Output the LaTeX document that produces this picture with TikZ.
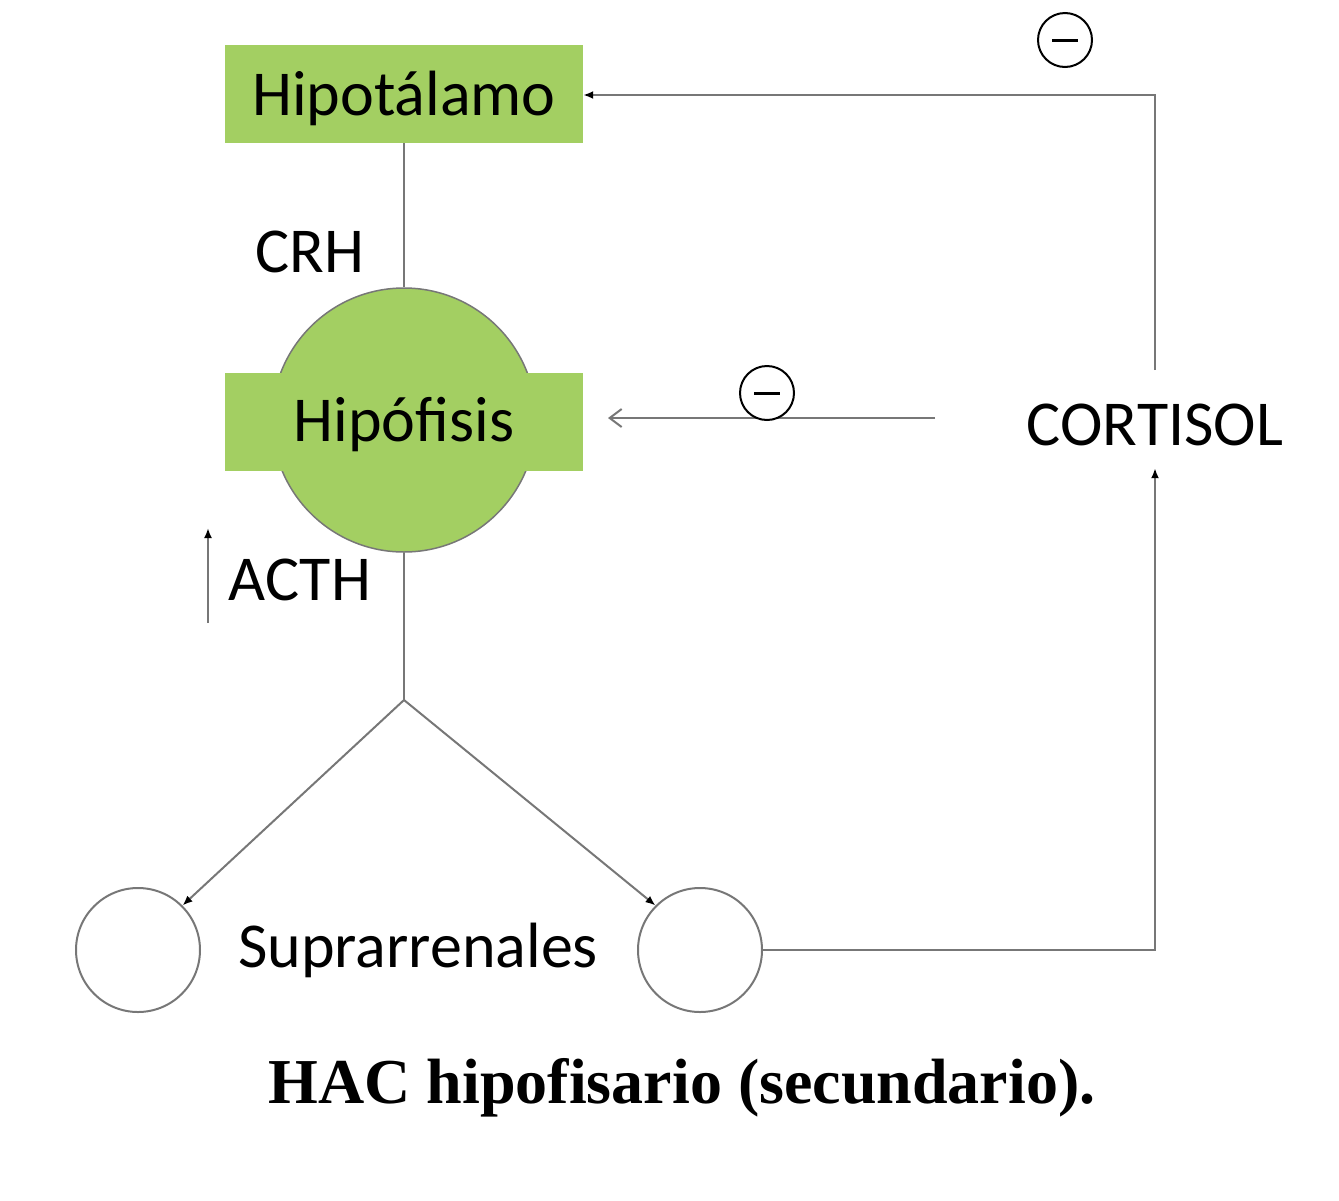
\documentclass[tikz,border=0pt]{standalone}
\usepackage{fontspec}
\setmainfont{Carlito}
\newfontfamily\capfont{Liberation Serif}
\usetikzlibrary{arrows.meta}
\definecolor{gr}{HTML}{A3CF62}
\definecolor{ln}{HTML}{777777}
\tikzset{
  conn/.style={draw=ln,line width=2pt},
  tip/.style={-{Latex[length=10pt,width=8pt,color=black]}},
  lbl/.style={font=\fontsize{64}{74}\selectfont,inner sep=0pt},
  minus/.style={circle,draw=black,line width=2pt,minimum size=54pt,inner sep=0pt,fill=white},
  adr/.style={circle,draw=ln,line width=2pt,minimum size=124pt,inner sep=0pt}
}
\begin{document}
\begin{tikzpicture}[x=1pt,y=-1pt]
\useasboundingbox (0,0) rectangle (1339,1200);
\node[fill=gr,minimum width=358pt,minimum height=98pt,inner sep=0pt] (hip) at (404,94) {};
\node[lbl] (hiptxt) at (404,98) {Hipotálamo};
\node[circle,fill=gr,draw=ln,line width=1.5pt,minimum size=264pt,inner sep=0pt] (pitc) at (404,420) {};
\node[fill=gr,minimum width=358pt,minimum height=98pt,inner sep=0pt] (pitr) at (404,422) {};
\node[lbl] (pittxt) at (404,425) {Hipófisis};
\node[lbl] (crh) at (310,252) {CRH};
\node[lbl] (acth) at (300,580) {ACTH};
\coordinate (a1) at (208,623); \coordinate (a2) at (208,528);
\draw[conn,tip] (a1) -- (a2);
\draw[conn] (hip.south) -- (pitc.north);
\coordinate (br) at (404,700);
\draw[conn] (pitc.south) -- (br);
\node[adr] (cl) at (138,950) {};
\node[adr] (cr) at (700,950) {};
\node[lbl] (sup) at (418,950) {Suprarrenales};
\draw[conn,tip] (br) -- (cl.45);
\draw[conn,tip] (br) -- (cr.135);
\node[lbl] (cort) at (1155,425) {CORTISOL};
\coordinate (c1) at (1155,950);
\draw[conn,tip] (cr.east) -- (c1) -- ([yshift=-22pt]cort.south);
\coordinate (c2) at (1155,370); \coordinate (c3) at (1155,95);
\draw[conn,tip] (c2) -- (c3) -- (hip.east |- c3);
\coordinate (h1) at (935,418); \coordinate (h2) at (608,418);
\draw[conn,-{Straight Barb[length=12pt,width=18pt]}] (h1) -- (h2);
\node[minus] (m1) at (1065,40) {}; \draw[line width=3pt] ([xshift=-13pt]m1.center) -- ([xshift=13pt]m1.center);
\node[minus] (m2) at (767,393) {}; \draw[line width=3pt] ([xshift=-13pt]m2.center) -- ([xshift=13pt]m2.center);
\node[font=\capfont\bfseries\fontsize{64}{70}\selectfont,inner sep=0pt] (cap) at (682,1088) {HAC hipofisario (secundario).};
\end{tikzpicture}
\end{document}
